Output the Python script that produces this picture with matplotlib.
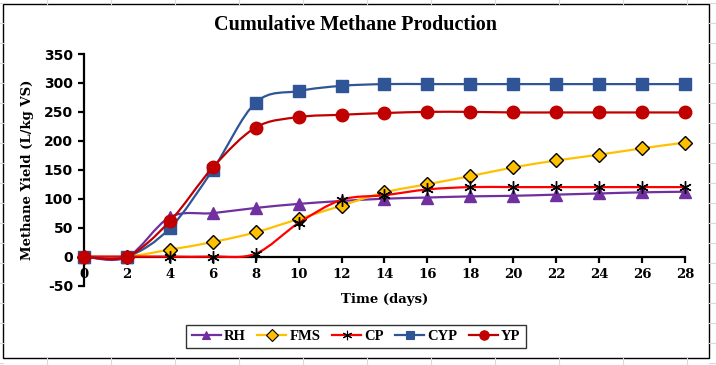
import matplotlib
matplotlib.use("Agg")
import matplotlib.pyplot as plt
import numpy as np
from matplotlib.path import Path
from matplotlib.patches import PathPatch, Rectangle
from matplotlib.lines import Line2D

plt.rcParams["axes.unicode_minus"] = False

# sampling days
days = [0, 2, 4, 6, 8, 10, 12, 14, 16, 18, 20, 22, 24, 26, 28]

# cumulative methane yield (L/kg VS)
rh = [0, -1, 68, 75, 84, 91, 96, 100, 102, 104, 105, 107, 109, 111, 112]
fms = [0, 0, 12, 25, 42, 65, 88, 111, 125, 139, 154, 166, 176, 187, 197]
cp = [0, 0, 0, 0, 5, 58, 98, 106, 116, 120, 120, 120, 120, 120, 120]
cyp = [0, 0, 49, 150, 266, 286, 295, 298, 298, 298, 298, 298, 298, 298, 298]
yp = [0, 0, 61, 154, 223, 241, 245, 248, 250, 250, 249, 249, 249, 249, 249]

names = ["RH", "FMS", "CP", "CYP", "YP"]
series = [rh, fms, cp, cyp, yp]

W, H = 716, 365


def fx(px):
    return px / W


def fy(py):
    return 1 - py / H


def smooth_path(xs, ys):
    # excel style smoothed line: cubic bezier through every point
    pts = np.column_stack([xs, ys]).astype(float)
    n = len(pts)
    verts = [pts[0]]
    codes = [Path.MOVETO]
    for i in range(n - 1):
        p0 = pts[max(i - 1, 0)]
        p1 = pts[i]
        p2 = pts[i + 1]
        p3 = pts[min(i + 2, n - 1)]
        c1 = p1 + (p2 - p0) / 6
        c2 = p2 - (p3 - p1) / 6
        verts += [c1, c2, p2]
        codes += [Path.CURVE4] * 3
    return Path(verts, codes)


fig = plt.figure(figsize=(W / 100, H / 100), dpi=100)

# excel sheet grid behind the chart
grey = "#d9d9d9"
for gx in range(47, W, 64):
    fig.add_artist(Line2D([fx(gx)] * 2, [fy(0), fy(4)], color=grey, lw=0.8))
    fig.add_artist(Line2D([fx(gx)] * 2, [fy(358), fy(365)], color=grey, lw=0.8))
for gy in range(3, H, 20):
    fig.add_artist(Line2D([fx(0), fx(3)], [fy(gy)] * 2, color=grey, lw=0.8))
    fig.add_artist(Line2D([fx(709), fx(716)], [fy(gy)] * 2, color=grey, lw=0.8))

# chart frame
fig.add_artist(Rectangle((fx(3), fy(358)), fx(706), (358 - 4) / H, fill=False,
                         edgecolor="black", lw=1.0, transform=fig.transFigure))

ax = fig.add_axes([fx(84), fy(285.5), fx(685 - 84), (285.5 - 54) / H])

styles = {
    "RH": dict(color="#7030A0", marker="^", ms=8, mfc="#7030A0", mec="#7030A0"),
    "FMS": dict(color="#FFC000", marker="D", ms=7.5, mfc="#FFC000", mec="black"),
    "CP": dict(color="#FF0000", marker=(6, 2, 0), ms=9, mfc="black", mec="black"),
    "CYP": dict(color="#2F5597", marker="s", ms=8, mfc="#2F5597", mec="#2F5597"),
    "YP": dict(color="#C00000", marker="o", ms=9, mfc="#C00000", mec="#C00000"),
}

handles = []
for k, (name, vals) in enumerate(zip(names, series)):
    st = styles[name]
    patch = PathPatch(smooth_path(days, vals), fill=False, edgecolor=st["color"],
                      lw=1.6, zorder=3 + k, clip_on=False)
    ax.add_patch(patch)
    ax.plot(days, vals, ls="none", marker=st["marker"], ms=st["ms"],
            mfc=st["mfc"], mec=st["mec"], mew=1.0, zorder=3.5 + k, clip_on=False)
    handles.append(Line2D([], [], color=st["color"], lw=1.6, marker=st["marker"],
                          ms=st["ms"] * 0.75, mfc=st["mfc"], mec=st["mec"], mew=0.8))

ax.set_xlim(0, 28)
ax.set_ylim(-50, 350)
ax.set_xticks(range(0, 29, 2))
ax.set_yticks(range(-50, 351, 50))

ax.spines["top"].set_visible(False)
ax.spines["right"].set_visible(False)
ax.spines["bottom"].set_position(("data", 0))
ax.spines["bottom"].set_linewidth(1.6)
ax.spines["left"].set_linewidth(1.6)
ax.tick_params(axis="x", direction="out", length=4, width=1.6, pad=4)
ax.tick_params(axis="y", direction="out", length=4, width=1.6, pad=4)
for lab in ax.get_xticklabels():
    lab.set_fontfamily("DejaVu Serif")
    lab.set_fontweight("bold")
    lab.set_fontsize(9.5)
for lab in ax.get_yticklabels():
    lab.set_fontfamily("DejaVu Sans")
    lab.set_fontweight("bold")
    lab.set_fontsize(10)
ax.patch.set_visible(False)

fig.text(fx(356), fy(25), "Cumulative Methane Production", ha="center", va="center",
         fontfamily="Liberation Serif", fontweight="bold", fontsize=14.5)
fig.text(fx(385), fy(299), "Time (days)", ha="center", va="center",
         fontfamily="DejaVu Serif", fontweight="bold", fontsize=9.5)
fig.text(fx(28), fy(170), "Methane Yield (L/kg VS)", ha="center", va="center",
         rotation=90, fontfamily="DejaVu Serif", fontweight="bold", fontsize=9.5)

leg = fig.legend(handles, names, loc="center", bbox_to_anchor=(fx(356), fy(336.5)),
                 ncol=5, frameon=True, fancybox=False, handlelength=2.0,
                 handletextpad=0.2, columnspacing=0.8, borderpad=0.35,
                 borderaxespad=0,
                 prop={"family": "Liberation Serif", "weight": "bold", "size": 10.5})
leg.get_frame().set_edgecolor("black")
leg.get_frame().set_linewidth(1.0)

fig.savefig("out.png", dpi=100)
